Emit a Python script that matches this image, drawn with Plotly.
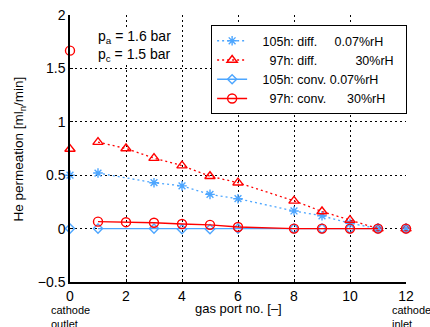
import plotly.graph_objects as go

ports = [1, 2, 3, 4, 5, 6, 8, 9, 10, 11]
diff_105 = [0.52, None, 0.43, 0.40, 0.32, 0.28, 0.165, 0.12, 0.05, 0.0]
diff_97 = [0.81, 0.75, 0.66, 0.59, 0.49, 0.43, 0.26, 0.16, 0.08, 0.0]
conv_105 = [0.0, None, 0.0, -0.005, -0.005, 0.0, 0.0, 0.0, 0.0, 0.0]
conv_97 = [0.065, 0.06, 0.055, 0.043, 0.035, 0.015, 0.0, 0.0, 0.0, 0.0]

outlet_x = 0
outlet = {"diff_105": 0.5, "diff_97": 0.745, "conv_105": 0.0, "conv_97": 1.666}
inlet_x = 12
inlet = {"diff_105": 0.0, "diff_97": 0.0, "conv_105": 0.0, "conv_97": 0.0}

xticks = [0, 2, 4, 6, 8, 10, 12]
yticks = [-0.5, 0, 0.5, 1, 1.5, 2]

BLUE = "#4da6ff"
RED = "#ff0000"
NB = "\u00a0"

names = {
    "diff_105": NB * 3 + "105h: diff." + NB * 5 + "0.07%rH" + NB * 2,
    "diff_97": NB * 5 + "97h: diff." + NB * 11 + "30%rH" + NB * 2,
    "conv_105": NB * 3 + "105h: conv. 0.07%rH" + NB * 2,
    "conv_97": NB * 5 + "97h: conv." + NB * 6 + "30%rH" + NB * 2,
}
styles = {
    "diff_105": dict(color=BLUE, dash="2px,3px", symbol="asterisk-open", size=8),
    "diff_97": dict(color=RED, dash="2px,3px", symbol="triangle-up-open", size=9),
    "conv_105": dict(color=BLUE, dash="solid", symbol="diamond-open", size=7),
    "conv_97": dict(color=RED, dash="solid", symbol="circle-open", size=9),
}
series = {"diff_105": diff_105, "diff_97": diff_97, "conv_105": conv_105, "conv_97": conv_97}

fig = go.Figure()
for key in ["diff_105", "diff_97", "conv_105", "conv_97"]:
    s = styles[key]
    fig.add_trace(go.Scatter(
        x=ports, y=series[key], mode="lines+markers", name=names[key],
        connectgaps=True,
        line=dict(color=s["color"], dash=s["dash"], width=1.3),
        marker=dict(symbol=s["symbol"], size=s["size"], color=s["color"],
                    line=dict(color=s["color"], width=1.4)),
    ))
for key in ["diff_105", "diff_97", "conv_105", "conv_97"]:
    s = styles[key]
    fig.add_trace(go.Scatter(
        x=[outlet_x, inlet_x], y=[outlet[key], inlet[key]], mode="markers",
        showlegend=False, cliponaxis=False,
        marker=dict(symbol=s["symbol"], size=s["size"], color=s["color"],
                    line=dict(color=s["color"], width=1.4)),
    ))

FONT = "Liberation Sans, Arial, sans-serif"
fig.update_layout(
    width=430, height=327,
    margin=dict(l=70, r=24, t=15, b=45, autoexpand=False),
    paper_bgcolor="white", plot_bgcolor="white",
    font=dict(family=FONT, size=13, color="black"),
    legend=dict(x=0.42, y=0.962, xanchor="left", yanchor="top",
                bordercolor="black", borderwidth=1, bgcolor="white",
                font=dict(size=12.5), tracegroupgap=0),
    showlegend=True,
)
GRID = dict(showgrid=True, gridcolor="black", griddash="2px,3px", gridwidth=1,
            showline=True, linecolor="black", linewidth=1.5,
            ticks="inside", ticklen=3, tickcolor="black",
            tickfont=dict(size=14), zeroline=False, automargin=False)
fig.update_xaxes(range=[0, 12], tickvals=xticks, ticktext=[str(v) for v in xticks], **GRID)
fig.update_yaxes(range=[-0.5, 2], tickvals=yticks,
                 ticktext=["\u22120.5", "0", "0.5", "1", "1.5", "2"], **GRID)

fig.add_annotation(x=0.5, y=-0.1, xref="paper", yref="paper", xanchor="center", yanchor="middle",
                   text="gas port no. [\u2013]", showarrow=False, font=dict(size=13))
fig.add_annotation(x=-0.149, y=0.5, xref="paper", yref="paper", xanchor="center", yanchor="middle",
                   text="He permeation [ml<sub>n</sub>/min]", textangle=-90, showarrow=False,
                   font=dict(size=13.5))
fig.add_annotation(x=0.08, y=0.955, xref="paper", yref="paper", xanchor="left", yanchor="top",
                   text="p<sub>a</sub> = 1.6 bar<br>p<sub>c</sub> = 1.5 bar", showarrow=False,
                   align="left", font=dict(size=14), bgcolor="white", borderpad=0)
fig.add_annotation(x=0, y=-0.075, xref="x", yref="paper", xanchor="center", yanchor="top",
                   text="cathode<br>outlet", showarrow=False, align="left", font=dict(size=11))
fig.add_annotation(x=12, y=-0.075, xref="x", yref="paper", xanchor="left", yanchor="top",
                   xshift=-16, text="cathode<br>inlet", showarrow=False, align="left", font=dict(size=11))

fig.write_html("out.html")
